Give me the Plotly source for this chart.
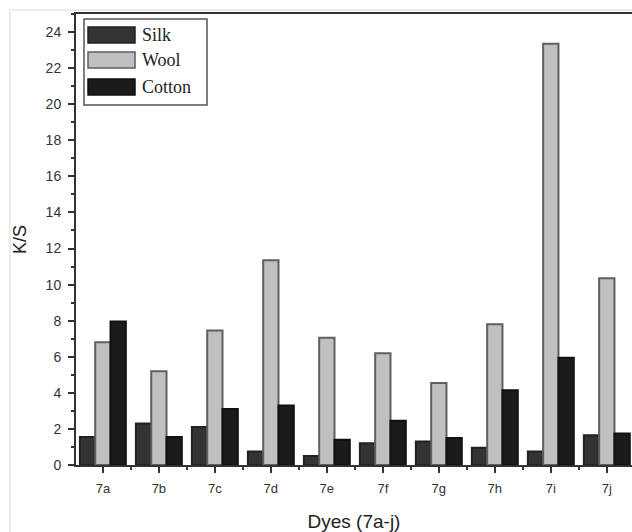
import plotly.graph_objects as go

dyes = ["7a", "7b", "7c", "7d", "7e", "7f", "7g", "7h", "7i", "7j"]
silk = [1.55, 2.3, 2.1, 0.75, 0.5, 1.2, 1.3, 0.95, 0.75, 1.65]
wool = [6.8, 5.2, 7.45, 11.35, 7.05, 6.2, 4.55, 7.8, 23.35, 10.35]
cotton = [7.95, 1.55, 3.1, 3.3, 1.4, 2.45, 1.5, 4.15, 5.95, 1.75]

series = [
    ("Silk", silk, "#333333", "#222222"),
    ("Wool", wool, "#c0c0c2", "#5f5f62"),
    ("Cotton", cotton, "#1c1a1b", "#111111"),
]

W, H = 632, 532
ML, MT, MB, MR = 76, 14, 67, 0

xpos = list(range(len(dyes)))

fig = go.Figure()
for name, vals, fill, line in series:
    fig.add_trace(go.Bar(
        x=xpos, y=vals, name=name,
        marker=dict(color=fill, line=dict(color=line, width=2)),
        showlegend=False,
    ))

fig.update_layout(
    width=W, height=H,
    margin=dict(l=ML, r=MR, t=MT, b=MB, pad=0),
    paper_bgcolor="white", plot_bgcolor="white",
    barmode="group", bargap=0.18, bargroupgap=0.0,
    font=dict(family="Liberation Sans, Arial, sans-serif", color="#333333"),
)

fig.update_xaxes(
    range=[-0.48, 9.45],
    tickmode="array", tickvals=xpos, ticktext=dyes,
    ticks="outside", ticklen=6, tickwidth=1.5, tickcolor="#333333",
    minor=dict(ticks="outside", ticklen=3, tickwidth=1.5, tickcolor="#333333",
               tickmode="linear", tick0=-0.5, dtick=1),
    showline=True, linecolor="#333333", linewidth=2, mirror=True,
    showgrid=False, zeroline=False,
    ticklabelstandoff=4,
    tickfont=dict(size=13, color="#333333"),
    title=dict(text="Dyes (7a-j)", font=dict(size=19, color="#222222"), standoff=23),
)

fig.update_yaxes(
    range=[0, 25],
    tickmode="linear", tick0=0, dtick=2,
    ticks="outside", ticklen=6, tickwidth=1.5, tickcolor="#333333",
    minor=dict(ticks="outside", ticklen=3, tickwidth=1.5, tickcolor="#333333",
               tickmode="linear", tick0=0, dtick=1),
    showline=True, linecolor="#333333", linewidth=2, mirror=False,
    showgrid=False, zeroline=False,
    ticklabelstandoff=4,
    tickfont=dict(size=14, color="#333333"),
    title=dict(text="K/S", font=dict(size=18, color="#222222"), standoff=14),
)

# helpers: pixel -> paper coordinates
pw = W - ML - MR
ph = H - MT - MB
def px(x):
    return (x - ML) / pw
def py(y):
    return 1 - (y - MT) / ph

shapes = []
# faint outer frame of the figure picture
shapes.append(dict(type="rect", xref="paper", yref="paper",
                   x0=px(10), x1=px(640), y0=py(10), y1=py(545),
                   line=dict(color="#e6e6e6", width=1.5), layer="below"))
# custom legend box
shapes.append(dict(type="rect", xref="paper", yref="paper",
                   x0=px(84), x1=px(207), y0=py(19), y1=py(105),
                   line=dict(color="#555555", width=1.5), fillcolor="white"))
annotations = []
row_y = [35, 60, 87]
for (name, vals, fill, line), yc in zip(series, row_y):
    shapes.append(dict(type="rect", xref="paper", yref="paper",
                       x0=px(88), x1=px(135), y0=py(yc - 8), y1=py(yc + 8),
                       line=dict(color=line, width=1.5), fillcolor=fill))
    annotations.append(dict(xref="paper", yref="paper", x=px(140), y=py(yc),
                            xanchor="left", yanchor="middle", showarrow=False,
                            text=name,
                            font=dict(family="Liberation Serif, Times New Roman, serif",
                                      size=18, color="#222222")))

fig.update_layout(shapes=shapes, annotations=annotations)

fig.write_html("out.html")
